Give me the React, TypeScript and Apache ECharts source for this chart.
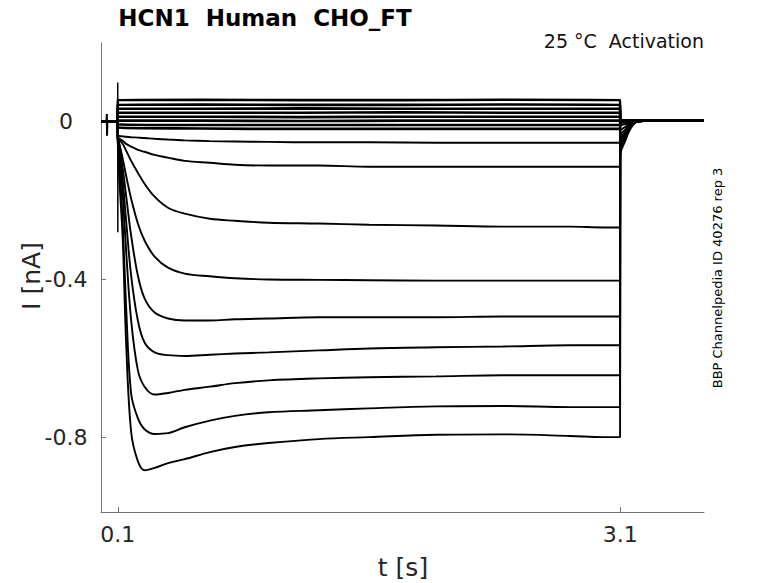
import React, { useEffect, useRef } from "react";
import * as echarts from "echarts";

// ---- time grids (s) ----
const HOLD_T = [0, 0.099];
const STEP_T = [0.1, 0.11, 0.13, 0.15, 0.18, 0.22, 0.26, 0.32, 0.4, 0.5, 0.65, 0.8, 1.0, 1.3, 1.6, 2.0, 2.4, 2.8, 3.0, 3.099];
const FLAT_T = [0.1, 0.6, 1.2, 1.8, 2.4, 3.099];
const TAIL_T = [3.1, 3.13, 3.16, 3.2, 3.3, 3.6];

// ---- holding current (nA) ----
const HOLD_I = [0, 0];

// ---- activating traces during the test pulse (nA) ----
const STEP_1 = [-0.048, -0.149, -0.3, -0.56, -0.787, -0.861, -0.884, -0.878, -0.866, -0.856, -0.838, -0.825, -0.815, -0.805, -0.8, -0.794, -0.793, -0.797, -0.8, -0.8];
const STEP_2 = [-0.046, -0.11, -0.26, -0.47, -0.69, -0.752, -0.78, -0.792, -0.79, -0.775, -0.758, -0.746, -0.737, -0.732, -0.727, -0.722, -0.721, -0.724, -0.724, -0.724];
const STEP_3 = [-0.044, -0.078, -0.187, -0.327, -0.504, -0.63, -0.672, -0.692, -0.688, -0.68, -0.672, -0.663, -0.656, -0.651, -0.648, -0.646, -0.643, -0.643, -0.643, -0.643];
const STEP_4 = [-0.042, -0.068, -0.149, -0.251, -0.39, -0.504, -0.56, -0.585, -0.592, -0.594, -0.591, -0.588, -0.585, -0.58, -0.575, -0.572, -0.57, -0.567, -0.567, -0.567];
const STEP_5 = [-0.04, -0.061, -0.119, -0.187, -0.289, -0.39, -0.448, -0.484, -0.499, -0.504, -0.504, -0.501, -0.499, -0.496, -0.496, -0.496, -0.494, -0.494, -0.494, -0.494];
const STEP_6 = [-0.038, -0.056, -0.094, -0.137, -0.195, -0.258, -0.301, -0.342, -0.37, -0.385, -0.392, -0.397, -0.4, -0.401, -0.402, -0.403, -0.403, -0.403, -0.403, -0.403];
const STEP_7 = [-0.035, -0.046, -0.056, -0.073, -0.099, -0.129, -0.157, -0.19, -0.218, -0.233, -0.246, -0.251, -0.256, -0.258, -0.261, -0.263, -0.266, -0.266, -0.268, -0.268];
const STEP_8 = [-0.04, -0.043, -0.048, -0.056, -0.063, -0.071, -0.076, -0.084, -0.091, -0.099, -0.104, -0.109, -0.111, -0.111, -0.114, -0.114, -0.114, -0.114, -0.114, -0.114];
const STEP_9 = [-0.035, -0.036, -0.037, -0.038, -0.039, -0.04, -0.041, -0.043, -0.045, -0.047, -0.049, -0.05, -0.051, -0.052, -0.052, -0.053, -0.053, -0.053, -0.053, -0.053];

// ---- near-flat traces (small steps) (nA) ----
const FLAT_1 = [0.055, 0.056, 0.055, 0.055, 0.056, 0.055];
const FLAT_2 = [0.043, 0.044, 0.043, 0.043, 0.044, 0.043];
const FLAT_3 = [0.033, 0.033, 0.034, 0.033, 0.033, 0.033];
const FLAT_4 = [0.023, 0.023, 0.023, 0.024, 0.023, 0.023];
const FLAT_5 = [0.013, 0.013, 0.012, 0.013, 0.013, 0.013];
const FLAT_6 = [0.003, 0.003, 0.002, 0.003, 0.003, 0.003];
const FLAT_7 = [-0.006, -0.008, -0.008, -0.008, -0.008, -0.008];
const FLAT_8 = [-0.014, -0.017, -0.018, -0.018, -0.018, -0.018];

// ---- tail currents after the pulse (nA) ----
const TAIL_1 = [-0.086, -0.048, -0.018, 0.0, 0.003, 0.003];
const TAIL_2 = [-0.076, -0.042, -0.015, 0.0, 0.003, 0.003];
const TAIL_3 = [-0.066, -0.036, -0.012, 0.0, 0.003, 0.003];
const TAIL_4 = [-0.056, -0.03, -0.01, 0.0, 0.003, 0.003];
const TAIL_5 = [-0.046, -0.025, -0.008, 0.0, 0.003, 0.003];
const TAIL_6 = [-0.036, -0.02, -0.006, 0.0, 0.003, 0.003];
const TAIL_7 = [-0.024, -0.013, -0.004, 0.0, 0.003, 0.003];
const TAIL_8 = [-0.012, -0.006, -0.002, 0.002, 0.003, 0.003];
const TAIL_9 = [-0.006, -0.002, 0.0, 0.002, 0.003, 0.003];
const TAIL_FLAT = [0.004, 0.004, 0.003, 0.003, 0.003, 0.003];

// ---- artifacts ----
const CAP_T = [0.0995, 0.1, 0.1005, 0.101, 0.103];
const CAP_I = [0, 0.1, -0.28, -0.1, -0.045];
const ART_T = [0.033, 0.035, 0.036, 0.038];
const ART_I = [0, 0.02, -0.035, 0];

// ---- axes ----
const X_TICKS = [0.1, 3.1];
const Y_TICKS = [0, -0.4, -0.8];
const X_RANGE = [0, 3.6];
const Y_RANGE = [-0.99, 0.2];

const TITLE = "HCN1  Human  CHO_FT";
const SUBTITLE = "25 °C  Activation";
const SIDE_NOTE = "BBP Channelpedia ID 40276 rep 3";
const X_NAME = "t [s]";
const Y_NAME = "I [nA]";

const ACTIVATING: [number[], number[]][] = [
  [STEP_1, TAIL_1],
  [STEP_2, TAIL_2],
  [STEP_3, TAIL_3],
  [STEP_4, TAIL_4],
  [STEP_5, TAIL_5],
  [STEP_6, TAIL_6],
  [STEP_7, TAIL_7],
  [STEP_8, TAIL_8],
  [STEP_9, TAIL_9],
];
const FLATS = [FLAT_1, FLAT_2, FLAT_3, FLAT_4, FLAT_5, FLAT_6, FLAT_7, FLAT_8];

const zip = (t: number[], v: number[]) => t.map((x, i) => [x, v[i]]);

const FONT = "DejaVu Sans";
const AXIS_COLOR = "#737373";
const TEXT_COLOR = "#262626";

function buildSeries() {
  const base = {
    type: "line" as const,
    showSymbol: false,
    symbol: "none",
    silent: true,
    z: 2,
  };
  const series: any[] = [];
  ACTIVATING.forEach(([step, tail], k) => {
    series.push({
      ...base,
      name: "trace" + (k + 1),
      smooth: 0.35,
      lineStyle: { color: "#000", width: 1.9 },
      data: [...zip(HOLD_T, HOLD_I), ...zip(STEP_T, step), ...zip(TAIL_T, tail)],
    });
  });
  FLATS.forEach((flat, k) => {
    series.push({
      ...base,
      name: "flat" + (k + 1),
      smooth: 0.35,
      lineStyle: { color: "#000", width: 2.6 },
      data: [...zip(HOLD_T, HOLD_I), ...zip(FLAT_T, flat), ...zip(TAIL_T, TAIL_FLAT)],
    });
  });
  series.push({ ...base, name: "cap", lineStyle: { color: "#000", width: 1.5 }, data: zip(CAP_T, CAP_I) });
  series.push({ ...base, name: "art", lineStyle: { color: "#000", width: 2 }, data: zip(ART_T, ART_I) });
  return series;
}

export default function App() {
  const ref = useRef<HTMLDivElement>(null);
  useEffect(() => {
    if (!ref.current) return;
    const chart = echarts.init(ref.current, undefined, { renderer: "svg" });
    chart.setOption({
      animation: false,
      backgroundColor: "#fff",
      grid: { left: 101, top: 43, right: 74, bottom: 71, containLabel: false },
      xAxis: {
        type: "value",
        min: X_RANGE[0],
        max: X_RANGE[1],
        axisLine: { show: true, onZero: false, lineStyle: { color: AXIS_COLOR, width: 1 } },
        axisTick: { show: true, inside: true, length: 5, customValues: X_TICKS, lineStyle: { color: AXIS_COLOR } },
        axisLabel: {
          customValues: X_TICKS,
          formatter: (v: number) => String(v),
          fontFamily: FONT,
          fontSize: 22,
          color: TEXT_COLOR,
          margin: 11,
        },
        splitLine: { show: false },
      },
      yAxis: {
        type: "value",
        min: Y_RANGE[0],
        max: Y_RANGE[1],
        axisLine: { show: true, onZero: false, lineStyle: { color: AXIS_COLOR, width: 1 } },
        axisTick: { show: true, inside: true, length: 5, customValues: Y_TICKS, lineStyle: { color: AXIS_COLOR } },
        axisLabel: {
          customValues: Y_TICKS,
          formatter: (v: number) => String(v),
          fontFamily: FONT,
          fontSize: 22,
          color: TEXT_COLOR,
          align: "center",
          margin: 35,
        },
        splitLine: { show: false },
      },
      graphic: [
        {
          type: "text",
          x: 265,
          y: 18,
          style: { text: TITLE, fontFamily: FONT, fontSize: 23, fontWeight: "bold", fill: "#000", align: "center", verticalAlign: "middle" },
        },
        {
          type: "text",
          x: 704,
          y: 41,
          style: { text: SUBTITLE, fontFamily: FONT, fontSize: 19, fill: "#111", align: "right", verticalAlign: "middle" },
        },
        {
          type: "text",
          x: 717,
          y: 278,
          rotation: Math.PI / 2,
          style: { text: SIDE_NOTE, fontFamily: FONT, fontSize: 13, fill: "#000", align: "center", verticalAlign: "middle" },
        },
        {
          type: "text",
          x: 31,
          y: 276,
          rotation: Math.PI / 2,
          style: { text: Y_NAME, fontFamily: FONT, fontSize: 25, fill: TEXT_COLOR, align: "center", verticalAlign: "middle" },
        },
        {
          type: "text",
          x: 403,
          y: 567,
          style: { text: X_NAME, fontFamily: FONT, fontSize: 25, fill: TEXT_COLOR, align: "center", verticalAlign: "middle" },
        },
      ],
      series: buildSeries(),
    });
    return () => chart.dispose();
  }, []);
  return <div ref={ref} style={{ position: "fixed", left: 0, top: 0, width: 778, height: 583 }} />;
}
